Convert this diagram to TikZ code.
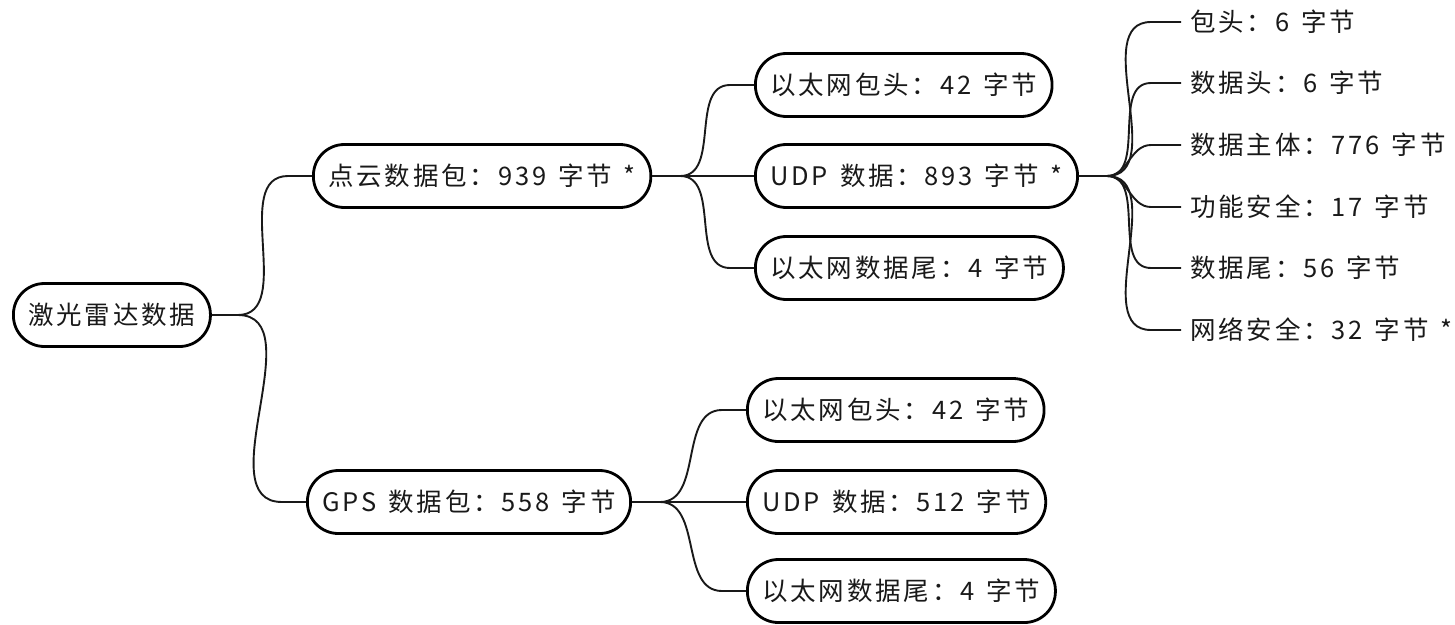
\documentclass[tikz,border=0pt]{standalone}
\usepackage{fontspec}
\setmainfont[LetterSpace=11,WordSpace=1.4]{Noto Sans CJK SC}
\usetikzlibrary{calc}
\begin{document}
\begin{tikzpicture}[x=1pt,y=-1pt,
  box/.style={draw, line width=2.8pt, rounded corners=31pt, minimum height=63pt, inner xsep=15pt, inner ysep=0pt, font=\fontsize{25.5}{30}\selectfont, anchor=west, text=black!90},
  leaf/.style={inner xsep=9pt, inner ysep=0pt, font=\fontsize{25.5}{30}\selectfont, anchor=west, text=black!90},
  conn/.style={line width=1.9pt, draw=black!90}]
\useasboundingbox (0,0) rectangle (1455,624);
\node[box] (root) at (12,315) {激光雷达数据};
\node[box] (pc) at (312,176) {点云数据包：939 字节 *};
\node[box] (gps) at (306,502) {GPS 数据包：558 字节};
\node[box] (eh1) at (754,85) {以太网包头：42 字节};
\node[box] (udp1) at (754,176) {UDP 数据：893 字节 *};
\node[box] (et1) at (754,268) {以太网数据尾：4 字节};
\node[box] (eh2) at (746,410) {以太网包头：42 字节};
\node[box] (udp2) at (746,502) {UDP 数据：512 字节};
\node[box] (et2) at (746,591) {以太网数据尾：4 字节};
\node[leaf] (l1) at (1181,22) {包头：6 字节};
\node[leaf] (l2) at (1181,83) {数据头：6 字节};
\node[leaf] (l3) at (1181,145) {数据主体：776 字节};
\node[leaf] (l4) at (1181,207) {功能安全：17 字节};
\node[leaf] (l5) at (1181,268) {数据尾：56 字节};
\node[leaf] (l6) at (1181,330) {网络安全：32 字节 *};
\foreach \c in {pc,gps}
  \draw[conn] (root.east) -- ++(26,0) to[out=0,in=180] ($(\c.west)+(-24,0)$) -- (\c.west);
\foreach \c in {eh1,udp1,et1}
  \draw[conn] (pc.east) -- ++(28,0) to[out=0,in=180] ($(\c.west)+(-24,0)$) -- (\c.west);
\foreach \c in {eh2,udp2,et2}
  \draw[conn] (gps.east) -- ++(28,0) to[out=0,in=180] ($(\c.west)+(-24,0)$) -- (\c.west);
\foreach \c in {l1,l2,l3,l4,l5,l6}
  \draw[conn] (udp1.east) -- ++(28,0) to[out=0,in=180] ($(\c.west)+(-30,0)$) -- (\c.west);
\end{tikzpicture}
\end{document}
